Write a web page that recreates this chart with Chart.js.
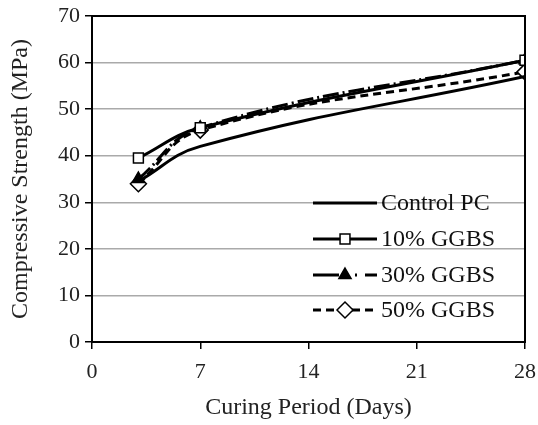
<!DOCTYPE html>
<html>
<head>
<meta charset="utf-8">
<script src="https://cdn.jsdelivr.net/npm/chart.js@4/dist/chart.umd.min.js"></script>
<style>
  html, body { margin: 0; padding: 0; background: #fff; }
  #wrap { width: 538px; height: 425px; }
</style>
</head>
<body>
<div id="wrap"><canvas id="c" width="538" height="425"></canvas></div>
<script>
// curing days and strengths (MPa)
const days = [3, 7, 28];
const controlPC = [34.5, 42.0, 57.0];
const ggbs10 = [39.5, 46.0, 60.5];
const ggbs30 = [35.0, 46.0, 60.5];
const ggbs50 = [34.0, 45.5, 58.0];
const seriesNames = ['Control PC', '10% GGBS', '30% GGBS', '50% GGBS'];
const xTicks = [0, 7, 14, 21, 28];

const serif = "'Liberation Serif', 'DejaVu Serif', serif";

const toPoints = vals => days.map((d, i) => ({ x: d, y: vals[i] }));

const base = {
  borderColor: '#000',
  borderWidth: 3,
  tension: 0.42,
  pointBorderColor: '#000',
  pointBorderWidth: 1.5
};

// legend drawn inside the plot area, like the original
const insideLegend = {
  id: 'insideLegend',
  afterDraw(chart) {
    const ctx = chart.ctx;
    const x0 = 313, x1 = 377;
    const rows = [203, 239, 275, 310];
    chart.data.datasets.forEach((ds, i) => {
      const y = rows[i];
      ctx.save();
      ctx.strokeStyle = '#000';
      ctx.lineWidth = 3;
      ctx.setLineDash(ds.legendDash || ds.borderDash || []);
      ctx.beginPath();
      ctx.moveTo(x0, y);
      ctx.lineTo(x1, y);
      ctx.stroke();
      ctx.setLineDash([]);
      if (ds.pointStyle && ds.pointRadius > 0) {
        ctx.fillStyle = ds.pointBackgroundColor;
        ctx.strokeStyle = '#000';
        ctx.lineWidth = 1.5;
        Chart.helpers.drawPoint(ctx, { pointStyle: ds.pointStyle, radius: ds.pointRadius, rotation: 0, borderWidth: 1.5 }, (x0 + x1) / 2, y);
      }
      ctx.fillStyle = '#111';
      ctx.font = '24px ' + serif;
      ctx.textBaseline = 'middle';
      ctx.fillText(ds.label, x1 + 4, y + 1);
      ctx.restore();
    });
  }
};

const frame = {
  id: 'frame',
  afterDatasetsDraw(chart) {
    const a = chart.chartArea;
    const ctx = chart.ctx;
    ctx.save();
    ctx.strokeStyle = '#000';
    ctx.lineWidth = 2;
    ctx.strokeRect(a.left, a.top, a.right - a.left, a.bottom - a.top);
    ctx.restore();
  }
};

new Chart(document.getElementById('c'), {
  type: 'line',
  data: {
    datasets: [
      Object.assign({}, base, {
        label: seriesNames[0], data: toPoints(controlPC),
        pointRadius: 0, pointStyle: false
      }),
      Object.assign({}, base, {
        label: seriesNames[1], data: toPoints(ggbs10),
        pointStyle: 'rect', pointRadius: 7, pointBackgroundColor: '#fff'
      }),
      Object.assign({}, base, {
        label: seriesNames[2], data: toPoints(ggbs30),
        borderDash: [16, 4, 2, 4],
        legendDash: [26, 6, 2, 8, 2, 8],
        pointStyle: 'triangle', pointRadius: 7, pointBackgroundColor: '#000'
      }),
      Object.assign({}, base, {
        label: seriesNames[3], data: toPoints(ggbs50),
        borderDash: [8, 5],
        pointStyle: 'rectRot', pointRadius: 8, pointBackgroundColor: '#fff'
      })
    ]
  },
  options: {
    responsive: false,
    animation: false,
    layout: { padding: { top: 16, right: 13, left: 0, bottom: 0 } },
    plugins: {
      legend: { display: false },
      tooltip: { enabled: false }
    },
    scales: {
      x: {
        type: 'linear', min: 0, max: 28,
        afterBuildTicks: s => { s.ticks = xTicks.map(v => ({ value: v })); },
        afterFit: s => { s.height = 83; s.paddingLeft = 0; s.paddingRight = 0; },
        grid: { drawOnChartArea: false, color: '#000', tickLength: 7, lineWidth: 1.5 },
        border: { color: '#000', width: 2 },
        ticks: { color: '#222', font: { family: serif, size: 22 }, padding: 10, maxRotation: 0 },
        title: { display: true, text: 'Curing Period (Days)', color: '#222', font: { family: serif, size: 24 }, padding: { top: 2, bottom: 3 } }
      },
      y: {
        min: 0, max: 70,
        ticks: { stepSize: 10, color: '#222', font: { family: serif, size: 22 }, padding: 5 },
        afterFit: s => { s.width = 92; s.paddingTop = 0; s.paddingBottom = 0; },
        grid: { color: '#aaa', lineWidth: 1.5, tickColor: '#000', tickLength: 7 },
        border: { color: '#000', width: 2 },
        title: { display: true, text: 'Compressive Strength (MPa)', color: '#222', font: { family: serif, size: 24 }, padding: { top: 6, bottom: 0 } }
      }
    }
  },
  plugins: [frame, insideLegend]
});
</script>
</body>
</html>
